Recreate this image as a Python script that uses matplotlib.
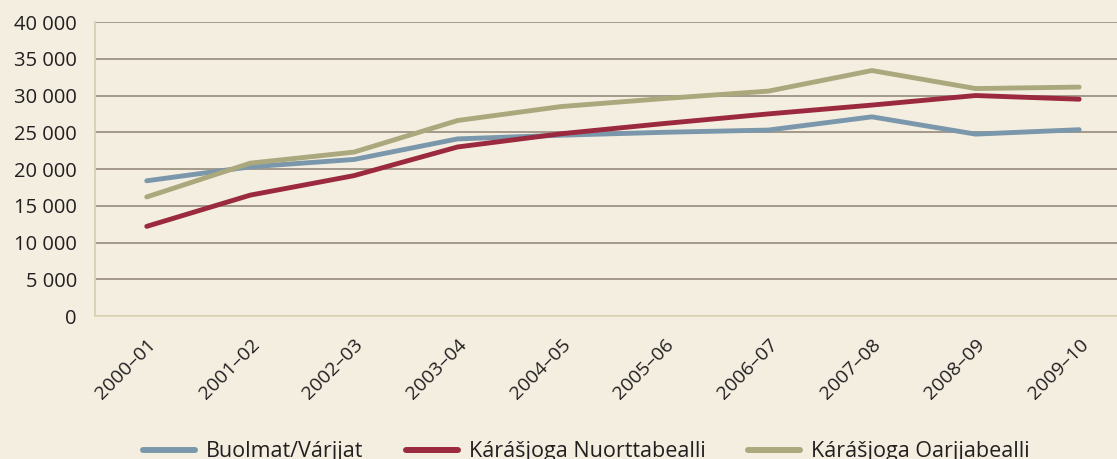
import numpy as np
import matplotlib.pyplot as plt
from matplotlib.ticker import FuncFormatter

# Datos
vuodat = ['2000–01', '2001–02', '2002–03', '2003–04', '2004–05',
          '2005–06', '2006–07', '2007–08', '2008–09', '2009–10']
buolmat = [18400, 20300, 21300, 24100, 24600, 25000, 25300, 27100, 24750, 25350]
nuorttabealli = [12200, 16450, 19100, 23000, 24800, 26200, 27500, 28700, 30000, 29500]
oarjjabealli = [16200, 20800, 22300, 26600, 28500, 29600, 30600, 33400, 30950, 31150]
y_ticks = np.arange(0, 40001, 5000)

bg = '#f4eee1'
plt.rcParams['font.family'] = ['Open Sans', 'DejaVu Sans']

fig = plt.figure(figsize=(11.17, 4.59), dpi=100, facecolor=bg)
ax = fig.add_axes([0.085, 0.3115, 0.9275, 0.6405], facecolor=bg)

x = np.arange(len(vuodat))
ax.plot(x, buolmat, color='#7b97ab', lw=3.5, solid_capstyle='round', label='Buolmat/Várjjat')
ax.plot(x, nuorttabealli, color='#9b2a3e', lw=3.5, solid_capstyle='round', label='Kárášjoga Nuorttabealli')
ax.plot(x, oarjjabealli, color='#aaa87c', lw=3.5, solid_capstyle='round', label='Kárášjoga Oarjjabealli')

ax.set_xlim(-0.5, len(vuodat) - 0.5)
ax.set_ylim(0, 40000)
ax.set_yticks(y_ticks)
ax.yaxis.set_major_formatter(FuncFormatter(lambda v, p: f'{int(v):,}'.replace(',', ' ')))
ax.set_xticks(x)
ax.set_xticklabels(vuodat, rotation=45, ha='right', rotation_mode='anchor')

ax.grid(axis='y', color='#8c8273', lw=1.1)
ax.set_axisbelow(True)
for s in ['top', 'right']:
    ax.spines[s].set_visible(False)
ax.spines['left'].set_color('#d8d0b0')
ax.spines['bottom'].set_color('#ddd5b8')
ax.spines['left'].set_linewidth(1.3)
ax.spines['bottom'].set_linewidth(1.3)
ax.tick_params(axis='both', length=0, colors='#231f20')
ax.tick_params(axis='y', pad=13, labelsize=14.5)
ax.tick_params(axis='x', pad=14, labelsize=14)

leg = fig.legend(loc='center', bbox_to_anchor=(0.525, 0.016), ncol=3, frameon=False,
                 fontsize=15.5, handlelength=2.4, columnspacing=2.0, handletextpad=0.5,
                 labelcolor='#231f20')
for h in leg.get_lines():
    h.set_linewidth(4.3)

fig.savefig('out.png', dpi=100, facecolor=bg)
